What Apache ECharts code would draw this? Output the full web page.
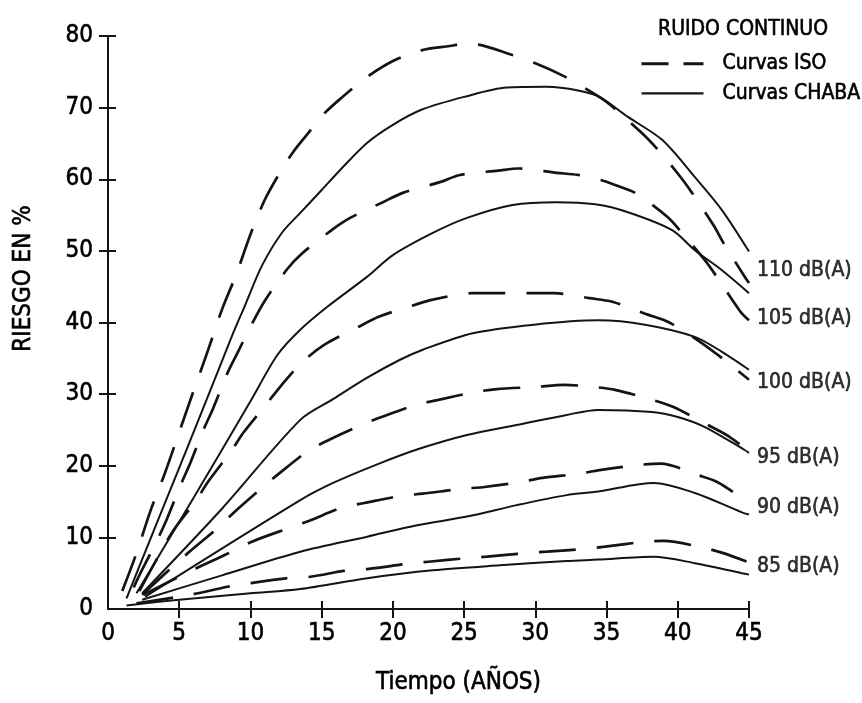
<!DOCTYPE html>
<html>
<head>
<meta charset="utf-8">
<script src="https://cdn.jsdelivr.net/npm/echarts@6/dist/echarts.min.js"></script>
<style>
  html, body { margin: 0; padding: 0; background: #fff; }
  #chart { width: 862px; height: 703px; }
</style>
</head>
<body>
<div id="chart"></div>
<script>
// curvas ISO (trazo discontinuo) y CHABA (trazo continuo), [años, riesgo %]
const iso110 = [[1, 2.5], [2, 7.8], [3, 13.8], [4, 19], [5, 24.7], [6, 30.4], [7, 36], [8, 41.8], [9, 46.7],
  [10, 52.3], [11, 57.1], [12, 60.7], [13, 63.8], [14, 66.3], [15, 68.8], [16, 70.7], [18, 74], [20, 76.5],
  [22, 78], [24, 78.6], [25, 78.9], [26, 78.8], [28, 77.6], [30, 76.2], [32, 74.4], [34, 72.1], [35, 70.8],
  [36, 69.1], [37.4, 66.6], [38.3, 64.8], [40, 60.8], [41, 58.1], [42.5, 53.6], [43.3, 50.8], [44.7, 46.4], [45, 45.5]];
const chaba110 = [[1.3, 1.5], [3, 9.9], [5, 19.7], [7, 29.6], [8.7, 38.1], [9.6, 42.3], [10.8, 47.9], [12.2, 52.5],
  [13.5, 55.3], [15, 58.5], [16.3, 61.3], [18.2, 65.1], [20, 67.6], [22, 69.7], [25, 71.5], [28, 72.8],
  [30.8, 72.9], [33, 72.4], [34.5, 71.5], [36.5, 68.7], [38.9, 65.5], [41.2, 60.3], [43.1, 55.7], [45, 49.9]];
const iso105 = [[1.8, 3], [2.2, 4.7], [3.4, 9.4], [4.1, 12.4], [5.1, 17.3], [5.8, 20.5], [6.7, 25], [7.4, 28.1],
  [8.4, 33], [9.1, 35.8], [10, 39.4], [11, 43], [12.6, 47.5], [13.6, 49.6], [15.7, 52.9], [17, 54.6],
  [19.3, 56.8], [20.7, 58.1], [23.3, 59.6], [24.7, 60.6], [27.4, 61.2], [28.8, 61.5], [31.5, 60.9], [33, 60.6],
  [34.6, 59.9], [35.6, 59.2], [37, 58.1], [39.3, 54.7], [40.3, 52.5], [41.9, 48.7], [42.8, 46.2], [44.4, 41.5], [45, 40.3]];
const chaba105 = [[2, 2.2], [6, 15.5], [10, 29], [11.9, 35.5], [13.5, 39], [15.4, 42.2], [18.2, 46.4], [20, 49.4],
  [22.8, 52.5], [25.2, 54.6], [28.4, 56.4], [31.5, 56.8], [34.2, 56.5], [36.5, 55.4], [39.6, 52.9], [41.2, 50.1],
  [43.1, 47.3], [45, 44.1]];
const iso100 = [[2.2, 2.5], [3.3, 6.5], [4.6, 11], [6.2, 15.2], [7, 17.7], [8.7, 22.2], [9.5, 24.6], [11.2, 28.8],
  [12.2, 31.3], [13.6, 34.4], [15.2, 36.9], [17.6, 39.4], [19, 40.8], [21.6, 42.5], [22.8, 43.2], [25.6, 44.1],
  [27, 44.1], [29.8, 44.1], [31.3, 44.1], [33.8, 43.4], [35.4, 42.9], [37.9, 41.1], [39.3, 40.1], [41.2, 37.8],
  [42.8, 35.5], [45, 32]];
const chaba100 = [[2.4, 2.2], [8, 14], [13.5, 26.4], [15.8, 29.3], [18.2, 32.3], [20.5, 34.8], [22.1, 36.2],
  [25.6, 38.5], [29.9, 39.7], [34.4, 40.3], [37.7, 39.7], [41.2, 38], [43.1, 35.9], [45, 33.4]];
const iso95 = [[2.4, 2], [5.6, 7.8], [7.7, 11.3], [8.8, 13.4], [10.8, 16.9], [12, 18.9], [14, 22], [15.4, 23.5],
  [17.8, 25.7], [19.2, 26.8], [21.8, 28.6], [23.2, 29.2], [25.8, 30.3], [27.3, 30.7], [30, 31], [32, 31.3],
  [34.1, 31], [35.6, 30.6], [38.2, 29.2], [39.7, 28.2], [42.1, 25.7], [43.5, 24.2], [45, 22]];
const chaba95 = [[2.6, 1.7], [13.5, 15.2], [15.8, 17.6], [18.9, 20.2], [21.9, 22.4], [25.2, 24.3], [28.7, 25.7],
  [32.2, 27.1], [34.4, 27.8], [38.2, 27.5], [40, 26.8], [41.9, 25.4], [44.7, 22.2], [45, 21.8]];
const iso90 = [[2.5, 2], [6.2, 5.7], [8.7, 8], [10.1, 9.4], [12.7, 11.3], [14.1, 12.3], [16.5, 14.2], [18, 14.8],
  [20.6, 15.8], [22.1, 16.1], [24.9, 16.8], [26.3, 17], [28.9, 17.7], [30.5, 18.3], [33.1, 18.9], [34.5, 19.4],
  [37.2, 20.1], [38.8, 20.3], [41.4, 18.7], [42.8, 17.7], [45, 14.8]];
const chaba90 = [[2.4, 1.3], [8, 4.7], [13.5, 8], [18.2, 10.1], [21.7, 11.7], [25.2, 12.9], [28.7, 14.5],
  [32.2, 15.9], [34.4, 16.4], [38.3, 17.6], [41.2, 16.2], [44.5, 13.5], [45, 13.2]];
const iso85 = [[2, 0.8], [5.8, 2], [8.4, 3.1], [10, 3.6], [12.6, 4.3], [14.2, 4.5], [16.8, 5.4], [18.3, 5.6],
  [21, 6.3], [22.5, 6.6], [25.2, 7.1], [26.6, 7.3], [29.3, 7.8], [30.8, 8], [33.5, 8.4], [34.9, 8.7],
  [37.7, 9.4], [39, 9.5], [41.9, 8.5], [43.2, 7.8], [45, 6.5]];
const chaba85 = [[1.3, 0.5], [5, 1.3], [10, 2.2], [13.5, 2.8], [18.2, 4.3], [22.8, 5.4], [27.5, 6.1],
  [32.2, 6.7], [34.4, 6.9], [38.3, 7.3], [41.2, 6.4], [44.5, 5], [45, 4.8]];

const levels = ['110 dB(A)', '105 dB(A)', '100 dB(A)', '95 dB(A)', '90 dB(A)', '85 dB(A)'];
const levelLabelY = [47.3, 40.6, 31.6, 21.2, 14.1, 5.9];
const xTickValues = [5, 10, 15, 20, 25, 30, 35, 40, 45];
const yTickValues = [10, 20, 30, 40, 50, 60, 70, 80];

const isoCurves = [iso110, iso105, iso100, iso95, iso90, iso85];
const chabaCurves = [chaba110, chaba105, chaba100, chaba95, chaba90, chaba85];

const INK = '#141414';
const FONT = "'DejaVu Sans Condensed', 'Liberation Sans Narrow', 'Roboto', sans-serif";
// el original usa un tipo condensado de trazo grueso: se engrosa con un borde del mismo color
const heavy = { color: '#000', fontFamily: FONT, textBorderColor: '#000', textBorderWidth: 0.6 };

const chart = echarts.init(document.getElementById('chart'));

const series = [];
isoCurves.forEach(d => {
  series.push({
    name: 'Curvas ISO',
    type: 'line',
    data: d,
    symbol: 'none',
    smooth: 0.3,
    lineStyle: { color: INK, width: 2.7, type: [37, 21], cap: 'butt' },
    itemStyle: { color: INK }
  });
});
chabaCurves.forEach(d => {
  series.push({
    name: 'Curvas CHABA',
    type: 'line',
    data: d,
    symbol: 'none',
    smooth: 0.3,
    lineStyle: { color: INK, width: 2 },
    itemStyle: { color: INK }
  });
});
// etiquetas de nivel al final de las curvas (sobre el segundo par de ejes, misma escala)
series.push({
  type: 'scatter',
  xAxisIndex: 1,
  yAxisIndex: 1,
  symbolSize: 0,
  silent: true,
  data: levels.map((l, i) => ({ value: [45, levelLabelY[i]], name: l })),
  label: {
    show: true,
    position: 'right',
    distance: 8,
    formatter: p => p.name,
    fontSize: 21,
    ...heavy
  }
});

const option = {
  animation: false,
  title: {
    text: 'RUIDO CONTINUO',
    left: 653,
    top: 14,
    textStyle: { fontSize: 21, fontWeight: 'normal', ...heavy }
  },
  legend: {
    orient: 'vertical',
    left: 635,
    top: 48,
    itemWidth: 62,
    itemHeight: 14,
    itemGap: 8,
    itemStyle: { opacity: 0 },
    data: [
      { name: 'Curvas ISO', lineStyle: { type: [27, 15], width: 3 } },
      { name: 'Curvas CHABA', lineStyle: { width: 2.4 } }
    ],
    textStyle: { fontSize: 21, padding: [0, 0, 0, 14], ...heavy }
  },
  grid: { left: 108, right: 113, top: 36, bottom: 94 },
  xAxis: [{
    type: 'value',
    position: 'bottom',
    min: 0, max: 45, interval: 5,
    name: 'Tiempo (AÑOS)',
    nameLocation: 'middle',
    nameGap: 62,
    nameTextStyle: { fontSize: 24, padding: [0, 0, 0, 60], ...heavy },
    axisLine: { lineStyle: { color: INK, width: 2 } },
    axisTick: { show: false },
    axisLabel: { fontSize: 24, margin: 13, ...heavy },
    splitLine: { show: false }
  }, {
    // marcas que cruzan el eje: eje desplazado 8 px hacia dentro con marcas de 17 px
    type: 'value',
    position: 'bottom',
    offset: -8,
    min: 0, max: 45, interval: 5,
    axisLine: { show: false, onZero: false },
    axisTick: { show: true, inside: false, length: 17, lineStyle: { color: INK, width: 2 }, customValues: xTickValues },
    axisLabel: { show: false },
    splitLine: { show: false }
  }],
  yAxis: [{
    type: 'value',
    position: 'left',
    min: 0, max: 80, interval: 10,
    name: 'RIESGO EN %',
    nameLocation: 'middle',
    nameGap: 72,
    nameRotate: 90,
    nameTextStyle: { fontSize: 24, padding: [0, 0, 0, 88], ...heavy },
    axisLine: { show: true, lineStyle: { color: INK, width: 2 } },
    axisTick: { show: false },
    axisLabel: { fontSize: 24, margin: 15, ...heavy },
    splitLine: { show: false }
  }, {
    type: 'value',
    position: 'left',
    offset: -8,
    min: 0, max: 80, interval: 10,
    axisLine: { show: false, onZero: false },
    axisTick: { show: true, inside: false, length: 17, lineStyle: { color: INK, width: 2 }, customValues: yTickValues },
    axisLabel: { show: false },
    splitLine: { show: false }
  }],
  series: series
};

chart.setOption(option);
</script>
</body>
</html>
